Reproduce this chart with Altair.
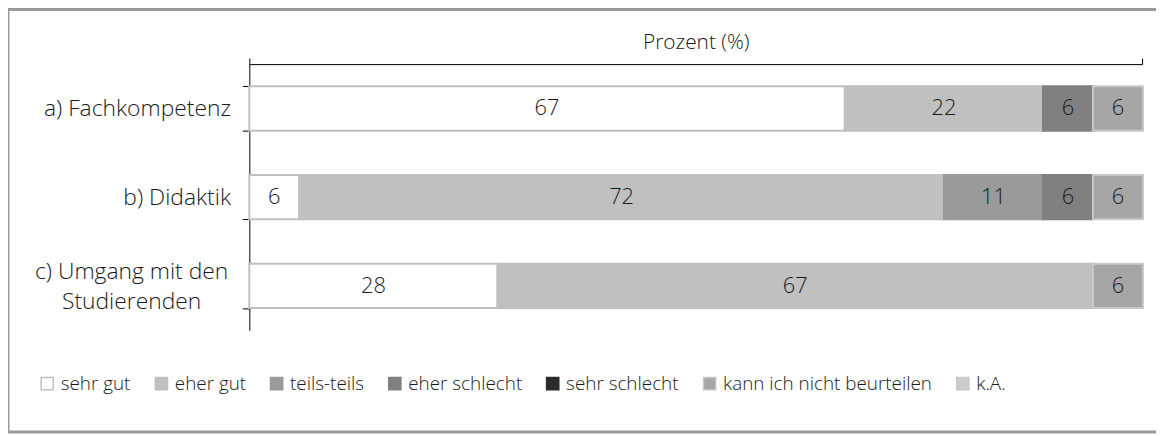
import altair as alt
import pandas as pd

items = ["a) Fachkompetenz", "b) Didaktik", "c) Umgang mit den Studierenden"]
cats = ["sehr gut", "eher gut", "teils-teils", "eher schlecht", "sehr schlecht",
        "kann ich nicht beurteilen", "k.A."]
fach = [66.7, 22.2, 0, 5.6, 0, 5.6, 0]
dida = [5.6, 72.2, 11.1, 5.6, 0, 5.6, 0]
umg = [27.8, 66.7, 0, 0, 0, 5.6, 0]

fills = ["#ffffff", "#c0c0c0", "#9a9a9a", "#808080", "#2b2b2b", "#a6a6a6", "#cccccc"]
strokes = ["#c0c0c0", "#c0c0c0", "#9a9a9a", "#808080", "#2b2b2b", "#c8c8c8", "#c8c8c8"]

rows = []
for item, vals in zip(items, [fach, dida, umg]):
    for k, (c, v) in enumerate(zip(cats, vals)):
        if v > 0:
            rows.append(dict(item=item, cat=c, k=k, value=v, label=f"{v:.0f}"))
df = pd.DataFrame(rows)

FONT = "Open Sans"
FW = 300
TEST = "datum.value == 'c) Umgang mit den Studierenden'"

base = alt.Chart(df).transform_stack(
    stack="value", groupby=["item"], as_=["x0", "x1"],
    sort=[alt.SortField("k", order="ascending")]
).transform_calculate(mid="(datum.x0 + datum.x1) / 2")

yenc = alt.Y(
    "item:N", sort=items,
    scale=alt.Scale(domain=items, paddingInner=0.5, paddingOuter=0.25),
    axis=alt.Axis(
        title=None, tickBand="extent", tickSize=7, tickColor="#000", domainColor="#000",
        grid=False,
        labelFontSize=23, labelColor="#1a1a1a", labelFont=FONT,
        labelFontWeight=FW, labelLineHeight=30, labelLimit=300,
        labelAlign={"condition": {"test": TEST, "value": "center"}, "value": "right"},
        labelPadding={"condition": {"test": TEST, "value": 112}, "value": 12},
        labelOffset={"condition": {"test": TEST, "value": -14}, "value": 0},
        labelExpr=TEST + " ? ['c) Umgang mit den', 'Studierenden'] : datum.value",
    ),
)

bars = base.mark_bar(strokeWidth=2).encode(
    x=alt.X("x0:Q", scale=alt.Scale(domain=[0, 100], nice=False),
            axis=alt.Axis(orient="top", values=[0, 100], labels=False, title="Prozent (%)",
                          tickSize=6, tickColor="#000", domainColor="#000", grid=False,
                          titleFontSize=21, titleFontWeight=FW, titleFont=FONT,
                          titleColor="#1a1a1a", titlePadding=5)),
    x2="x1:Q",
    y=yenc,
    fill=alt.Fill("cat:N", scale=alt.Scale(domain=cats, range=fills),
                  legend=alt.Legend(orient="none", legendX=-213, legendY=312, direction="horizontal",
                                    columns=7, title=None, symbolType="square", symbolSize=150,
                                    symbolStrokeWidth=1.5, labelFontSize=19, labelFont=FONT,
                                    labelFontWeight=FW,
                                    labelColor="#1a1a1a", labelOffset=4, columnPadding=21,
                                    padding=0, labelLimit=400)),
    stroke=alt.Stroke("cat:N", scale=alt.Scale(domain=cats, range=strokes)),
)

text = base.mark_text(fontSize=22, color="#1a1a1a", font=FONT, fontWeight=FW).encode(
    x=alt.X("mid:Q"), y=alt.Y("item:N", sort=items), text="label:N"
)

frame = alt.Chart(alt.Data(values=[{}])).mark_rect(
    filled=False, stroke="#999999", strokeWidth=3
).encode(x=alt.value(-243), x2=alt.value(920), y=alt.value(-55), y2=alt.value(370.5))

chart = alt.layer(frame, bars, text).properties(
    width=899, height=268,
    padding={"left": 243, "top": 55, "right": 14, "bottom": 105},
    autosize=alt.AutoSizeParams(type="none"),
).configure(background="#ffffff", view=alt.ViewConfig(stroke=None))

chart.save("out.html", embed_options={"renderer": "svg", "actions": False})
